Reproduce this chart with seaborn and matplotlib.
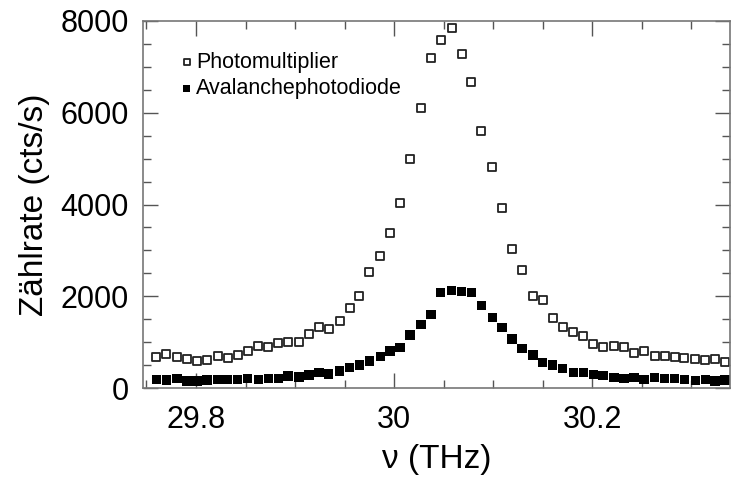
import numpy as np
import pandas as pd
import seaborn as sns
import matplotlib.pyplot as plt
from matplotlib.ticker import MultipleLocator

# Frequency (THz) of each scan point
freq = [29.760, 29.770, 29.781, 29.791, 29.801, 29.811, 29.822, 29.832, 29.842, 29.852,
        29.863, 29.873, 29.883, 29.893, 29.904, 29.914, 29.924, 29.934, 29.945, 29.955,
        29.965, 29.975, 29.986, 29.996, 30.006, 30.016, 30.027, 30.037, 30.047, 30.058,
        30.068, 30.078, 30.088, 30.099, 30.109, 30.119, 30.129, 30.140, 30.150, 30.160,
        30.170, 30.181, 30.191, 30.201, 30.211, 30.222, 30.232, 30.242, 30.252, 30.263,
        30.273, 30.283, 30.293, 30.304, 30.314, 30.324, 30.334]

# Count rates (cts/s)
photomultiplier = [680, 733, 680, 630, 587, 609, 702, 646, 717, 804,
                   920, 885, 972, 994, 994, 1167, 1333, 1276, 1463, 1746,
                   2015, 2528, 2876, 3385, 4037, 4994, 6102, 7203, 7581, 7842,
                   7290, 6681, 5594, 4826, 3920, 3022, 2565, 2007, 1913, 1528,
                   1320, 1224, 1130, 957, 885, 920, 885, 754, 811, 696,
                   696, 681, 646, 624, 609, 624, 558]

avalanche = [189, 174, 211, 152, 152, 174, 189, 189, 189, 202,
             189, 202, 211, 261, 240, 283, 333, 304, 370, 450,
             500, 587, 681, 804, 885, 1152, 1385, 1602, 2080, 2130,
             2109, 2080, 1798, 1537, 1320, 1065, 863, 717, 558, 500,
             428, 341, 341, 298, 268, 224, 211, 233, 189, 233,
             211, 211, 189, 160, 189, 152, 174]

df = pd.DataFrame({'freq': freq, 'pm': photomultiplier, 'apd': avalanche})

sns.set_style("ticks")
plt.rcParams['font.family'] = ['Liberation Sans', 'DejaVu Sans']
plt.rcParams['text.color'] = 'black'
plt.rcParams['axes.labelcolor'] = 'black'
plt.rcParams['xtick.labelcolor'] = 'black'
plt.rcParams['ytick.labelcolor'] = 'black'

fig = plt.figure(figsize=(7.31, 4.78), dpi=100)
ax = fig.add_axes([143 / 731, 90 / 478, 587 / 731, 367 / 478])

sns.scatterplot(data=df, x='freq', y='pm', marker='s', s=40, color='white',
                edgecolor='#222222', linewidth=1.3, label='Photomultiplier', ax=ax)
sns.scatterplot(data=df, x='freq', y='apd', marker='s', s=46, color='black',
                edgecolor='none', linewidth=0, label='Avalanchephotodiode', ax=ax)

ax.set_xlim(29.7465, 30.339)
ax.set_ylim(0, 8000)
ax.xaxis.set_major_locator(MultipleLocator(0.2))
ax.xaxis.set_minor_locator(MultipleLocator(0.05))
ax.yaxis.set_major_locator(MultipleLocator(2000))
ax.yaxis.set_minor_locator(MultipleLocator(500))
ax.set_xticks([29.8, 30.0, 30.2])
ax.set_xticklabels(['29.8', '30', '30.2'])

ax.tick_params(which='both', direction='in', top=True, right=True,
               color='#555555', width=1, labelsize=22)
ax.tick_params(which='major', length=11)
ax.tick_params(which='minor', length=5.5)
ax.tick_params(axis='y', pad=10)
ax.tick_params(axis='x', pad=12)
for sp in ax.spines.values():
    sp.set_color('#777777')
    sp.set_linewidth(1.2)

ax.set_xlabel('ν (THz)', fontsize=24, labelpad=7)
ax.set_ylabel('Zählrate (cts/s)', fontsize=24, labelpad=8)

leg = ax.legend(loc='upper left', bbox_to_anchor=(0.045, 0.94), frameon=False,
                fontsize=15.5, markerscale=0.7, handlelength=0.8, handletextpad=0.05,
                labelspacing=0.25, borderaxespad=0)

fig.savefig('out.png', dpi=100)
